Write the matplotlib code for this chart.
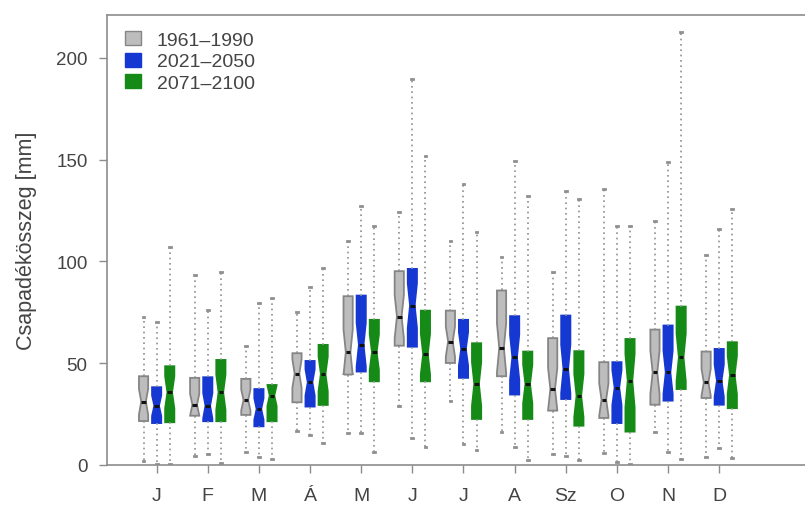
import numpy as np
import matplotlib
matplotlib.use("Agg")
import matplotlib.pyplot as plt
from matplotlib.patches import Patch

plt.rcParams['font.family'] = ['Liberation Sans', 'DejaVu Sans']

# ── DATA: monthly precipitation box statistics (mm) ───────────
MONTHS = ['J', 'F', 'M', 'Á', 'M', 'J', 'J', 'A', 'Sz', 'O', 'N', 'D']
PERIODS = ['1961–1990', '2021–2050', '2071–2100']

# 1961–1990
ref_lo  = [2.1, 4.6, 6.5, 16.9, 15.7, 28.8, 31.6, 16.1, 5.4, 5.9, 16.4, 3.8]
ref_q1  = [21.6, 24.2, 24.6, 30.8, 44.4, 58.6, 50.1, 43.6, 26.7, 23.1, 29.6, 32.9]
ref_med = [31.1, 29.6, 31.9, 44.9, 55.4, 72.9, 60.6, 57.5, 37.3, 32.1, 45.5, 40.6]
ref_q3  = [43.6, 42.8, 42.3, 54.9, 82.9, 95.2, 75.8, 85.7, 62.3, 50.5, 66.5, 55.7]
ref_hi  = [72.6, 93.4, 58.3, 75.3, 109.9, 124.2, 109.9, 102.1, 95.0, 135.6, 120.0, 103.2]

# 2021–2050
near_lo  = [0.5, 5.4, 3.8, 14.7, 15.6, 13.1, 10.3, 8.7, 4.3, 1.3, 6.5, 8.2]
near_q1  = [20.6, 21.5, 19.0, 28.7, 45.9, 58.1, 42.8, 34.6, 32.4, 20.6, 31.6, 29.6]
near_med = [29.1, 29.1, 27.5, 40.6, 59.1, 78.3, 57.0, 52.9, 47.2, 38.0, 45.5, 41.4]
near_q3  = [38.2, 43.1, 37.3, 51.1, 83.2, 96.3, 71.3, 73.1, 73.4, 50.5, 68.5, 57.0]
near_hi  = [70.1, 76.3, 79.6, 87.6, 127.4, 189.7, 138.1, 149.5, 134.8, 117.6, 149.0, 116.0]

# 2071–2100
far_lo  = [0.5, 1.0, 2.9, 10.7, 6.2, 8.7, 7.4, 2.6, 2.6, 0.5, 2.9, 3.3]
far_q1  = [21.0, 21.5, 21.5, 29.5, 41.1, 41.1, 22.6, 22.6, 19.3, 16.4, 37.3, 27.9]
far_med = [35.7, 35.7, 34.1, 44.7, 55.4, 54.5, 39.8, 39.8, 34.1, 41.4, 52.9, 44.2]
far_q3  = [48.5, 51.6, 39.3, 59.0, 71.3, 75.8, 59.8, 55.7, 55.9, 61.9, 77.8, 60.3]
far_hi  = [107.0, 94.7, 81.9, 96.8, 117.3, 151.8, 114.3, 132.0, 130.7, 117.6, 212.6, 125.5]

N_YEARS = 30

FACE = ['#bdbdbd', '#1538d2', '#168a16']
EDGE = ['#858585', '#1538d2', '#168a16']
TEXT = '#444444'
AXIS = '#8c8c8c'


def box_stats(lo, q1, med, q3, hi):
    """Stats dicts for bxp; notch = median +- 1.58*IQR/sqrt(n)."""
    out = []
    for a, b, c, d, e in zip(lo, q1, med, q3, hi):
        half = 1.58 * (d - b) / np.sqrt(N_YEARS)
        out.append(dict(whislo=a, q1=b, med=c, q3=d, whishi=e,
                        cilo=c - half, cihi=c + half, fliers=[]))
    return out


series = [
    box_stats(ref_lo, ref_q1, ref_med, ref_q3, ref_hi),
    box_stats(near_lo, near_q1, near_med, near_q3, near_hi),
    box_stats(far_lo, far_q1, far_med, far_q3, far_hi),
]

fig = plt.figure(figsize=(8.05, 5.06), dpi=100)
ax = fig.add_axes([107 / 805, 40 / 506, 710 / 805, 450 / 506])

centers = np.arange(1, len(MONTHS) + 1)
offsets = [-0.256, 0.0, 0.256]
width = 0.18

for k, stats in enumerate(series):
    ax.bxp(stats, positions=centers + offsets[k], widths=width,
           shownotches=True, showfliers=False, patch_artist=True,
           capwidths=0.035,
           boxprops=dict(facecolor=FACE[k], edgecolor=EDGE[k], lw=1.3),
           medianprops=dict(color='#111111', lw=2.2, solid_capstyle='butt'),
           whiskerprops=dict(color='#8f8f8f', lw=1.2, ls=(0, (1, 2.2))),
           capprops=dict(color='#8f8f8f', lw=2.0),
           manage_ticks=False)

ax.set_xlim(1 - 53 / 54.6, 1 + 705 / 54.6)
ax.set_ylim(0, 221)

ax.set_xticks(centers)
ax.set_xticklabels(MONTHS)
ax.set_yticks([0, 50, 100, 150, 200])
ax.tick_params(axis='both', colors=AXIS, labelcolor=TEXT,
               labelsize=13.5, length=6, width=1)
ax.tick_params(axis='x', pad=10, labelsize=14)
ax.tick_params(axis='y', pad=8)
for s in ax.spines.values():
    s.set_color(AXIS)
    s.set_linewidth(1.2)

ax.set_ylabel('Csapadékösszeg [mm]', fontsize=15.5, color=TEXT, labelpad=14)

handles = [Patch(facecolor=FACE[k], edgecolor=EDGE[k]) for k in range(3)]
ax.legend(handles, PERIODS, loc='upper left', bbox_to_anchor=(0.0, 1.003),
          frameon=False, fontsize=14, handlelength=0.85, handleheight=0.75,
          handletextpad=0.8, labelspacing=0.18, labelcolor=TEXT)

fig.savefig('out.png', dpi=100)
